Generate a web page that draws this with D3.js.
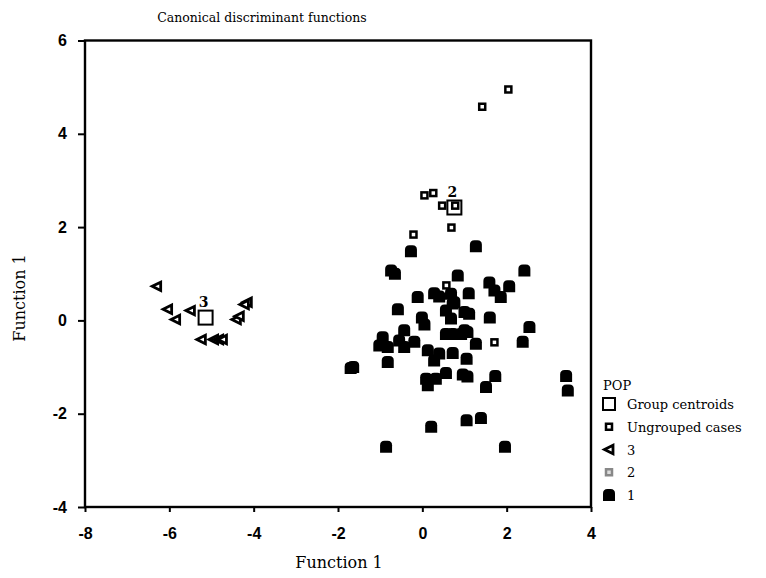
<!DOCTYPE html>
<html>
<head>
<meta charset="utf-8">
<script src="https://cdn.jsdelivr.net/npm/d3@7"></script>
<style>
	body { margin: 0; background: #fff; }
	.tick text { font-family: "Liberation Sans", Arial, sans-serif; font-weight: bold; font-size: 16px; fill: #000; }
	.serif { font-family: "DejaVu Serif", "Liberation Serif", serif; fill: #000; }
</style>
</head>
<body>
<svg class="chart" width="766" height="578"></svg>
<script>
// group 1 cases (function 1, function 2)
var group1Points = [
	[-0.27,1.48],[1.27,1.59],[-0.74,1.07],[-0.65,1.00],[0.84,0.96],[2.42,1.07],[1.59,0.81],[1.71,0.64],
	[1.86,0.50],[2.06,0.73],[-0.11,0.50],[0.28,0.58],[0.40,0.51],[0.68,0.57],[1.10,0.58],[0.72,0.36],
	[-0.58,0.24],[-0.01,0.06],[0.05,-0.09],[0.56,0.21],[0.76,0.39],[0.68,0.04],[1.00,0.18],[1.11,0.14],
	[1.60,0.06],[2.54,-0.14],[2.38,-0.46],[1.27,-0.50],[0.56,-0.29],[0.72,-0.29],[0.92,-0.29],[1.00,-0.21],
	[1.07,-0.25],[-0.94,-0.36],[-1.02,-0.54],[-0.82,-0.57],[-0.82,-0.89],[-0.43,-0.21],[-0.43,-0.57],
	[-0.55,-0.43],[-0.19,-0.46],[0.13,-0.64],[0.40,-0.71],[0.28,-0.86],[0.72,-0.70],[1.05,-0.82],
	[-1.64,-1.00],[-1.70,-1.02],[0.09,-1.25],[0.13,-1.39],[0.32,-1.25],[0.56,-1.13],[0.96,-1.16],[1.07,-1.20],
	[1.73,-1.19],[1.51,-1.43],[3.41,-1.19],[3.45,-1.50],[1.05,-2.14],[1.39,-2.09],[0.21,-2.28],
	[-0.86,-2.71],[1.96,-2.71]
]
var ungroupedPoints = [
	[2.04,4.95],[1.42,4.58],[0.05,2.68],[0.26,2.73],[0.47,2.46],[0.78,2.46],[0.69,1.99],[-0.21,1.84],
	[0.57,0.75],[1.71,-0.47]
]
var group3Points = [
	[-6.30,0.73],[-6.04,0.24],[-5.85,0.02],[-5.50,0.21],[-4.15,0.39],[-4.22,0.34],[-4.41,0.02],[-4.34,0.09],
	[-5.24,-0.41],[-4.95,-0.41],[-4.83,-0.41],[-4.74,-0.41]
]
var centroidLabels = ['3', '2']
var centroidPoints = [[-5.14,0.06],[0.76,2.42]]
var xTicks = [-8,-6,-4,-2,0,2,4]
var yTicks = [-4,-2,0,2,4,6]
var legendLabels = ['Group centroids', 'Ungrouped cases', '3', '2', '1']

;(function() {
	var svg = d3.select('.chart')
	var margin = { top: 40.5, left: 85, right: 175, bottom: 71 }
	var width = 766 - margin.left - margin.right
	var height = 578 - margin.top - margin.bottom

	var x = d3.scaleLinear().domain([-8, 4]).range([margin.left, margin.left + width])
	var y = d3.scaleLinear().domain([-4, 6]).range([margin.top + height, margin.top])

	// filled dot: rounded top, flat bottom
	var dotPath = 'M-6,6 L-6,-1.5 Q-6,-6 -1.5,-6 L1.5,-6 Q6,-6 6,-1.5 L6,6 Z'
	var triPath = 'M-4.5,0 L4,-4.2 L4,4.2 Z'

	function drawFrame() {
		svg.append('rect')
			.attr('x', margin.left).attr('y', margin.top)
			.attr('width', width).attr('height', height)
			.attr('fill', 'none').attr('stroke', '#000').attr('stroke-width', 2.4)

		var axisX = d3.axisBottom(x).tickValues(xTicks).tickSize(5).tickPadding(16).tickFormat(d3.format('d'))
		svg.append('g').attr('class', 'axis')
			.attr('transform', 'translate(0,' + (margin.top + height) + ')')
			.call(axisX)

		var axisY = d3.axisLeft(y).tickValues(yTicks).tickSize(7).tickPadding(11).tickFormat(d3.format('d'))
		svg.append('g').attr('class', 'axis')
			.attr('transform', 'translate(' + margin.left + ',0)')
			.call(axisY)

		svg.selectAll('.axis .domain').remove()
		svg.selectAll('.axis line').attr('stroke', '#000').attr('stroke-width', 2)
		svg.selectAll('.tick text').text(function(d) { return String(d) })
	}

	function drawLabels() {
		svg.append('text').attr('class', 'serif')
			.attr('x', 262).attr('y', 22)
			.attr('text-anchor', 'middle').attr('font-size', '12.5px')
			.text('Canonical discriminant functions')

		svg.append('text').attr('class', 'serif')
			.attr('x', 339).attr('y', 568)
			.attr('text-anchor', 'middle').attr('font-size', '16px')
			.text('Function 1')

		svg.append('text').attr('class', 'serif')
			.attr('text-anchor', 'middle').attr('font-size', '16px')
			.attr('transform', 'translate(25,' + 298 + ')rotate(-90)')
			.text('Function 1')
	}

	function drawPoints() {
		var g = svg.append('g')

		g.selectAll('.dot1').data(group1Points).enter()
			.append('path').attr('class', 'dot1')
			.attr('d', dotPath)
			.attr('transform', function(d) { return 'translate(' + x(d[0]) + ',' + y(d[1]) + ')' })
			.attr('fill', '#000')

		g.selectAll('.tri').data(group3Points).enter()
			.append('path').attr('class', 'tri')
			.attr('d', triPath)
			.attr('transform', function(d) { return 'translate(' + x(d[0]) + ',' + y(d[1]) + ')' })
			.attr('fill', '#fff').attr('stroke', '#000').attr('stroke-width', 2.8)

		g.selectAll('.ung').data(ungroupedPoints).enter()
			.append('rect').attr('class', 'ung')
			.attr('x', function(d) { return x(d[0]) - 3 })
			.attr('y', function(d) { return y(d[1]) - 3 })
			.attr('width', 6).attr('height', 6)
			.attr('fill', '#fff').attr('stroke', '#000').attr('stroke-width', 2.5)

		g.selectAll('.cen').data(centroidPoints).enter()
			.append('rect').attr('class', 'cen')
			.attr('x', function(d) { return x(d[0]) - 7 })
			.attr('y', function(d) { return y(d[1]) - 7 })
			.attr('width', 14).attr('height', 14)
			.attr('fill', 'none').attr('stroke', '#000').attr('stroke-width', 2)

		g.selectAll('.cenlab').data(centroidPoints).enter()
			.append('text').attr('class', 'serif cenlab')
			.attr('x', function(d) { return x(d[0]) - 2 })
			.attr('y', function(d) { return y(d[1]) - 11 })
			.attr('text-anchor', 'middle').attr('font-size', '14px').attr('font-weight', 'bold')
			.text(function(d, i) { return centroidLabels[i] })
	}

	function drawLegend() {
		var lg = svg.append('g').attr('transform', 'translate(603,0)')
		lg.append('text').attr('class', 'serif')
			.attr('x', 0).attr('y', 390).attr('font-size', '13px')
			.text('POP')

		var rowY = d3.scalePoint().domain(legendLabels).range([404, 495])

		lg.selectAll('.lt').data(legendLabels).enter()
			.append('text').attr('class', 'serif lt')
			.attr('x', 24).attr('y', function(d) { return rowY(d) + 5 })
			.attr('font-size', '13px')
			.text(function(d) { return d })

		// symbols
		var c = rowY('Group centroids')
		lg.append('rect').attr('x', 0).attr('y', c - 6).attr('width', 12).attr('height', 12)
			.attr('fill', 'none').attr('stroke', '#000').attr('stroke-width', 2)
		var u = rowY('Ungrouped cases')
		lg.append('rect').attr('x', 3).attr('y', u - 3).attr('width', 6).attr('height', 6)
			.attr('fill', '#fff').attr('stroke', '#000').attr('stroke-width', 2.5)
		lg.append('path').attr('d', triPath)
			.attr('transform', 'translate(6,' + rowY('3') + ')')
			.attr('fill', '#fff').attr('stroke', '#000').attr('stroke-width', 2.8)
		var t = rowY('2')
		lg.append('rect').attr('x', 3).attr('y', t - 3).attr('width', 6).attr('height', 6)
			.attr('fill', '#ddd').attr('stroke', '#888').attr('stroke-width', 2.5)
		lg.append('path').attr('d', dotPath)
			.attr('transform', 'translate(6,' + rowY('1') + ')')
			.attr('fill', '#000')
	}

	drawFrame()
	drawLabels()
	drawPoints()
	drawLegend()
})()
</script>
</body>
</html>
